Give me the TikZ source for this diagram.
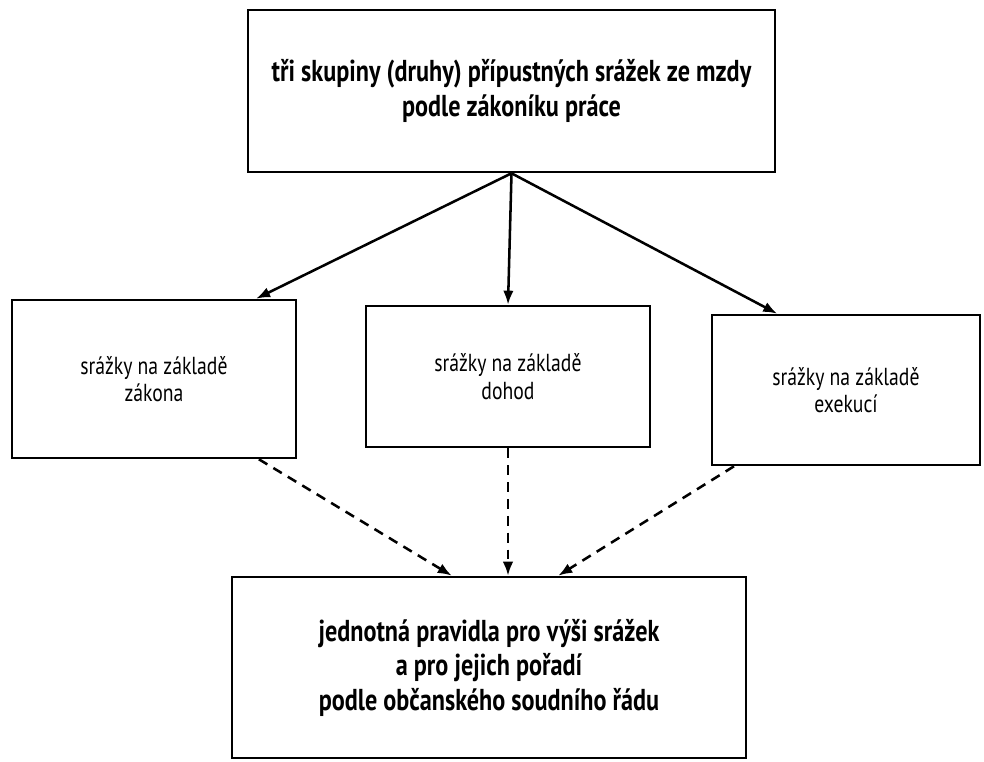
\documentclass[tikz,border=0pt]{standalone}
\usepackage{fontspec}
\setmainfont[FakeStretch=0.8]{PT Sans}
\usepackage{tikz}
\usetikzlibrary{arrows.meta,positioning,calc}

\begin{document}
\begin{tikzpicture}[x=0.025cm,y=-0.025cm,>={Latex[length=10pt,width=7.5pt]},
	box/.style={draw,line width=1.8pt,align=center,inner sep=0pt},
	hlavni/.style={box,font=\fontsize{21.5}{24.5}\selectfont\bfseries},
	skupina/.style={box,font=\fontsize{17.5}{19.5}\selectfont},
	vazba/.style={->,line width=1.8pt},
	prenos/.style={->,line width=1.8pt,dashed,dash pattern=on 7pt off 5pt}]
	\useasboundingbox (0,0) rectangle (984,761);
	% Draw the main box
	\node (skupiny) [hlavni,minimum width=13.175cm,minimum height=4.05cm] at (511.5,91)
	{tři skupiny (druhy) přípustných srážek ze mzdy\\ podle zákoníku práce};
	% Draw the three groups
	\node (zakon) [skupina,minimum width=7.1cm,minimum height=3.95cm] at (154,379)
	{srážky na základě\\ zákona};
	\node (dohod) [skupina,minimum width=7.1cm,minimum height=3.525cm] at (508,376.5)
	{srážky na základě\\ dohod};
	\node (exekuce) [skupina,minimum width=6.7cm,minimum height=3.75cm] at (846,390)
	{srážky na základě\\ exekucí};
	% Draw the common rules
	\node (pravidla) [hlavni,minimum width=12.85cm,minimum height=4.525cm] at (489,667.5)
	{jednotná pravidla pro výši srážek\\ a pro jejich pořadí\\ podle občanského soudního řádu};
	% Arrows from the main box
	\draw [vazba] (skupiny.south) -- ($(zakon.north east)!0.144!(zakon.north west)$);
	\draw [vazba] (skupiny.south) -- (dohod.north);
	\draw [vazba] (skupiny.south) -- ($(exekuce.north west)!0.246!(exekuce.north east)$);
	% Dashed arrows to the rules
	\draw [prenos] ($(zakon.south east)!0.134!(zakon.south west)$)
	-- ($(pravidla.north west)!0.428!(pravidla.north east)$);
	\draw [prenos] (dohod.south) -- (dohod.south |- pravidla.north);
	\draw [prenos] ($(exekuce.south west)!0.086!(exekuce.south east)$)
	-- ($(pravidla.north west)!0.634!(pravidla.north east)$);
\end{tikzpicture}
\end{document}
